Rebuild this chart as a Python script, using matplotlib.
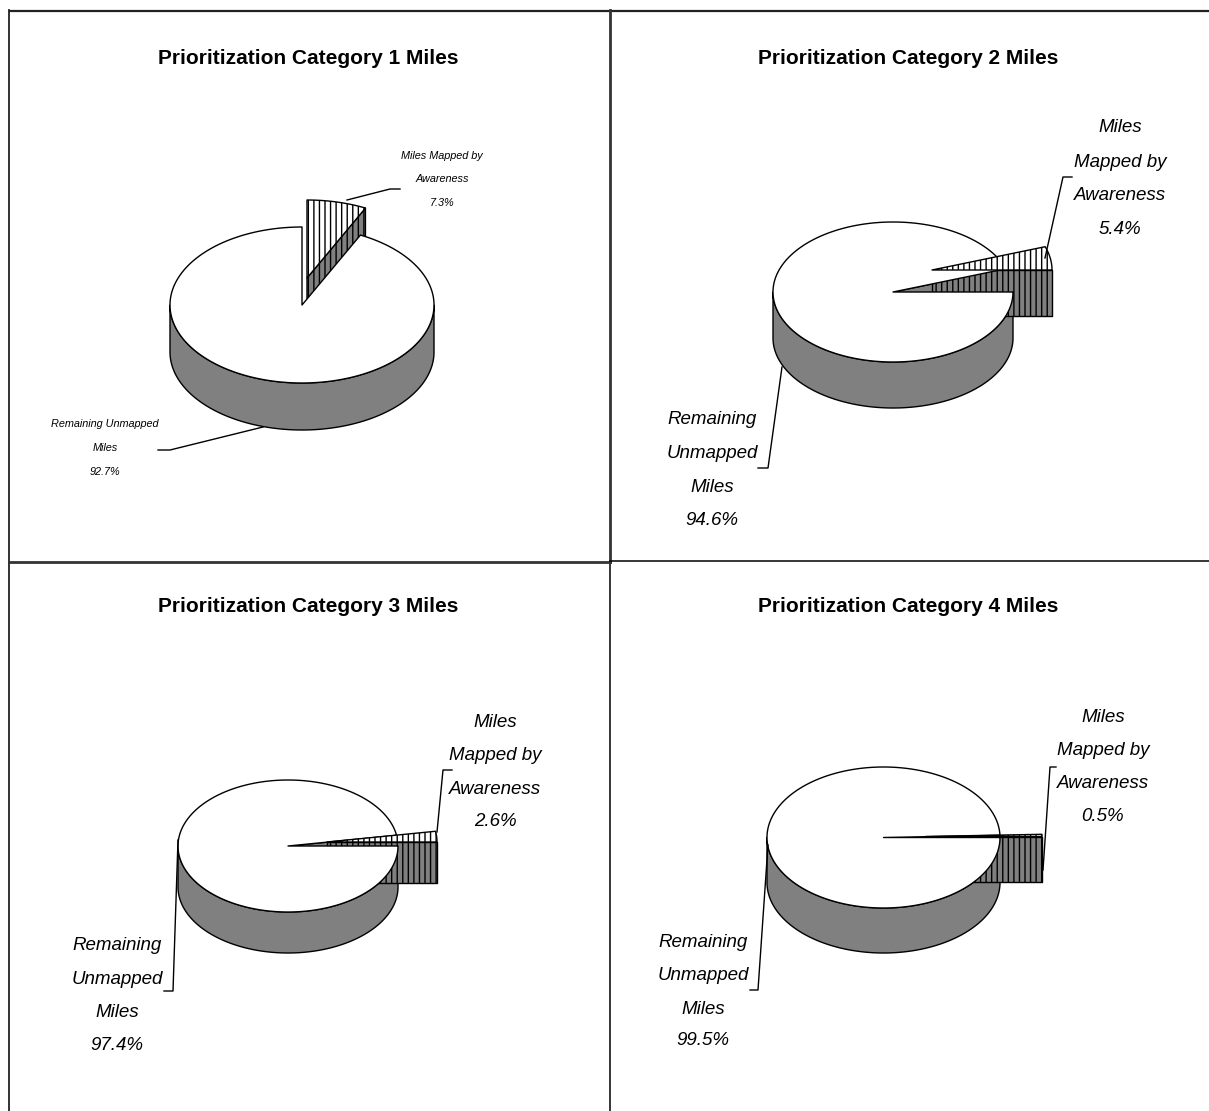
import numpy as np
import matplotlib
matplotlib.use("Agg")
import matplotlib.pyplot as plt
from matplotlib.patches import Polygon

# ---------------- data ----------------
titles = ["Prioritization Category 1 Miles", "Prioritization Category 2 Miles",
          "Prioritization Category 3 Miles", "Prioritization Category 4 Miles"]
mapped_pct = [7.3, 5.4, 2.6, 0.5]
remaining_pct = [92.7, 94.6, 97.4, 99.5]
mapped_lines_p1 = ["Miles Mapped by", "Awareness"]
remaining_lines_p1 = ["Remaining Unmapped", "Miles"]
mapped_lines = ["Miles", "Mapped by", "Awareness"]
remaining_lines = ["Remaining", "Unmapped", "Miles"]

# ---------------- layout (pixel positions / styles) ----------------
W, H = 1209, 1111
plt.rcParams['hatch.linewidth'] = 1.0
GREY = "#808080"
LW = 1.0
HATCH = "|||"

panels = [
    dict(cx=302, cy=305, rx=132, ry=78, d=47, anchor=90, clockwise=True, off=(5, -27),
         tx=308, ty=58,
         m_x=442, m_y=[155, 178, 202], r_x=105, r_y=[423, 447, 471], small=True,
         m_lead=[(347, 200), (390, 189), (400, 189)],
         r_lead=[(263, 427), (170, 450), (158, 450)]),
    dict(cx=893, cy=292, rx=120, ry=70, d=46, anchor=0, clockwise=False, off=(39, -22),
         tx=908, ty=58,
         m_x=1120, m_y=[125, 160, 193, 227], r_x=712, r_y=[417, 451, 485, 518], small=False,
         m_lead=[(1045, 258), (1063, 177), (1072, 177)],
         r_lead=[(782, 367), (768, 468), (758, 468)]),
    dict(cx=288, cy=846, rx=110, ry=66, d=41, anchor=0, clockwise=False, off=(39, -4),
         tx=308, ty=607,
         m_x=495, m_y=[720, 753, 787, 819], r_x=117, r_y=[943, 977, 1010, 1043], small=False,
         m_lead=[(437, 832), (443, 770), (452, 770)],
         r_lead=[(178, 840), (173, 991), (164, 991)]),
    dict(cx=883.5, cy=837.5, rx=116.5, ry=70.5, d=45, anchor=0, clockwise=False, off=(42, -1),
         tx=908, ty=607,
         m_x=1103, m_y=[715, 748, 781, 814], r_x=703, r_y=[940, 973, 1007, 1038], small=False,
         m_lead=[(1043, 870), (1050, 767), (1056, 767)],
         r_lead=[(768, 845), (758, 990), (750, 990)]),
]

LABEL_FONT = ['Liberation Sans', 'DejaVu Sans']
TITLE_FONT = ['Liberation Sans', 'DejaVu Sans']

fig = plt.figure(figsize=(W / 100, H / 100), dpi=100)
ax = fig.add_axes([0, 0, 1, 1])
ax.set_xlim(0, W)
ax.set_ylim(H, 0)
ax.axis('off')


def arc(cx, cy, rx, ry, a1, a2, n=None):
    if n is None:
        n = max(2, int(abs(a2 - a1) * 2) + 2)
    t = np.radians(np.linspace(a1, a2, n))
    return np.column_stack([cx + rx * np.cos(t), cy - ry * np.sin(t)])


def front_intervals(a1, a2):
    out = []
    for k in range(-2, 3):
        lo, hi = 180 + 360 * k, 360 + 360 * k
        b1, b2 = max(a1, lo), min(a2, hi)
        if b2 > b1:
            out.append((b1, b2))
    return out


def poly(pts, fc, hatch=None, z=1):
    ax.add_patch(Polygon(pts, closed=True, facecolor=fc, edgecolor='black',
                         linewidth=LW, hatch=hatch, zorder=z, joinstyle='round'))


def draw_walls(cx, cy, rx, ry, d, a1, a2, fc, hatch, z):
    for b1, b2 in front_intervals(a1, a2):
        top = arc(cx, cy, rx, ry, b1, b2)
        bot = top + np.array([0, d])
        poly(np.vstack([top, bot[::-1]]), fc, hatch, z)
    for a, vis in ((a1, np.cos(np.radians(a1)) > 1e-6), (a2, np.cos(np.radians(a2)) < -1e-6)):
        if vis:
            e = arc(cx, cy, rx, ry, a, a, 2)[0]
            poly([(cx, cy), e, (e[0], e[1] + d), (cx, cy + d)], fc, hatch, z)


def draw_top(cx, cy, rx, ry, a1, a2, fc, hatch, z):
    pts = np.vstack([[cx, cy], arc(cx, cy, rx, ry, a1, a2)])
    poly(pts, fc, hatch, z)


for i, p in enumerate(panels):
    total = mapped_pct[i] + remaining_pct[i]
    span = 360.0 * mapped_pct[i] / total
    if p['clockwise']:
        s1, s2 = p['anchor'] - span, p['anchor']
    else:
        s1, s2 = p['anchor'], p['anchor'] + span
    m1, m2 = s2, s1 + 360
    cx, cy, rx, ry, d = p['cx'], p['cy'], p['rx'], p['ry'], p['d']
    scx, scy = cx + p['off'][0], cy + p['off'][1]
    # painter's order
    draw_walls(cx, cy, rx, ry, d, m1, m2, GREY, None, 2)
    draw_walls(scx, scy, rx, ry, d, s1, s2, GREY, HATCH, 3)
    draw_top(cx, cy, rx, ry, m1, m2, 'white', None, 4)
    draw_top(scx, scy, rx, ry, s1, s2, 'white', HATCH, 5)

    # title
    ax.text(p['tx'], p['ty'], titles[i], ha='center', va='center', fontsize=15.0,
            fontweight='bold', family=TITLE_FONT, zorder=10)

    # labels
    if p['small']:
        ml = mapped_lines_p1 + [f"{mapped_pct[i]:.1f}%"]
        rl = remaining_lines_p1 + [f"{remaining_pct[i]:.1f}%"]
        fs = 7.8
    else:
        ml = mapped_lines + [f"{mapped_pct[i]:.1f}%"]
        rl = remaining_lines + [f"{remaining_pct[i]:.1f}%"]
        fs = 13.5
    em = fs * 100 / 72
    for txt, y in zip(ml, p['m_y']):
        ax.text(p['m_x'], y + 0.36 * em, txt, ha='center', va='baseline', fontsize=fs,
                style='italic', family=LABEL_FONT, zorder=10)
    for txt, y in zip(rl, p['r_y']):
        ax.text(p['r_x'], y + 0.36 * em, txt, ha='center', va='baseline', fontsize=fs,
                style='italic', family=LABEL_FONT, zorder=10)
    for lead in (p['m_lead'], p['r_lead']):
        xs, ys = zip(*lead)
        ax.plot(xs, ys, color='black', lw=LW, zorder=9)

# panel borders
ax.plot([10, 1209], [11, 11], color='#222222', lw=1.6, zorder=20)
ax.plot([9, 9], [10, 1111], color='#222222', lw=1.3, zorder=20)
ax.plot([610, 610], [10, 562], color='#333333', lw=2.0, zorder=20)
ax.plot([610, 610], [562, 1111], color='black', lw=1.1, zorder=20)
ax.plot([9, 610], [562, 562], color='#333333', lw=2.0, zorder=20)
ax.plot([610, 1209], [561, 561], color='black', lw=1.1, zorder=20)

fig.savefig("out.png", dpi=100, facecolor='white')
